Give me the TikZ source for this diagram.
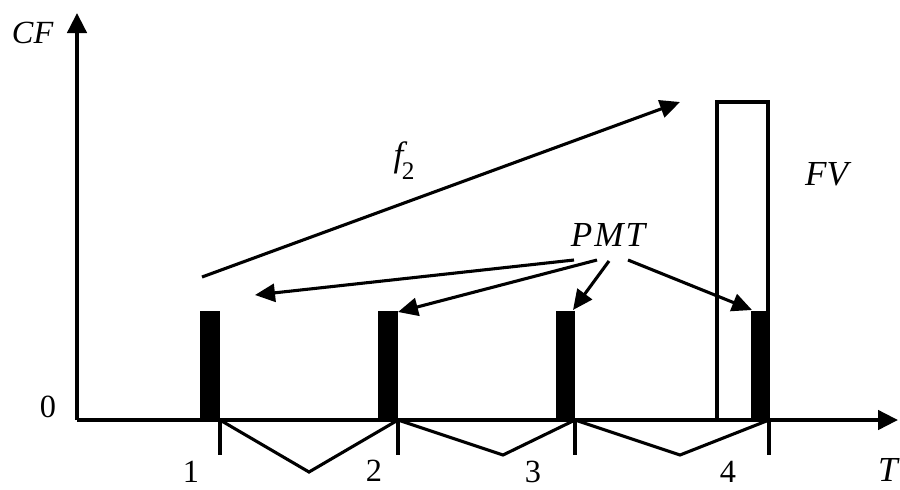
\documentclass[tikz,border=0pt]{standalone}
\usepackage{fontspec}
\setmainfont{Liberation Serif}
\usetikzlibrary{arrows.meta}
\definecolor{ink}{RGB}{0,0,0}
\tikzset{
    line join=miter,
    axis/.style={
        -{Triangle[length=0.5cm, width=0.48cm]},
        draw=ink,
        line width=2.8pt
    },
    flowline/.style={
        draw=ink,
        line width=2.2pt
    },
    payarrow/.style={
        flowline,
        -{Triangle[length=0.5cm, width=0.45cm]}
    },
    paybar/.style={
        fill=ink
    },
    fvbar/.style={
        draw=ink,
        line width=2.2pt
    },
    ticklabel/.style={
        font=\fontsize{23}{26}\selectfont,
        text=ink,
        inner sep=0pt
    },
    varlabel/.style={
        font=\fontsize{25}{28}\selectfont\itshape,
        text=ink,
        inner sep=0pt
    },
    axislabel/.style={
        font=\fontsize{23}{26}\selectfont\itshape,
        text=ink,
        inner sep=0pt
    }
}

\begin{document}
\begin{tikzpicture}
\useasboundingbox (-1.925, -1.725) rectangle (20.575, 10.5);

% Future value column
\draw[fvbar] (16.0, 0) rectangle (17.275, 7.95);

% Payment bars
\fill[paybar] (3.075, 0) rectangle (3.575, 2.725);
\fill[paybar] (7.525, 0) rectangle (8.025, 2.725);
\fill[paybar] (11.975, 0) rectangle (12.45, 2.725);
\fill[paybar] (16.85, 0) rectangle (17.3, 2.725);

% Axes
\coordinate (origin) at (0, 0);
\coordinate (ytop) at (0, 10.175);
\coordinate (xend) at (20.525, 0);
\draw[axis] (origin) -- (ytop);
\draw[axis] (origin) -- (xend);

\node[axislabel] (cf) at (-1.11, 9.675) {CF};
\node[ticklabel] (zero) at (-0.725, 0.325) {0};
\node[varlabel] (t) at (20.275, -1.25) {T};

% Periods
\coordinate (p1) at (3.575, 0);
\coordinate (p2) at (8.025, 0);
\coordinate (p3) at (12.45, 0);
\coordinate (p4) at (17.3, 0);
\draw[flowline] (p1) -- ++(0, -0.875);
\draw[flowline] (p2) -- ++(0, -0.875);
\draw[flowline] (p3) -- ++(0, -0.875);
\draw[flowline] (p4) -- ++(0, -0.875);

\node[ticklabel] (n1) at (2.85, -1.29) {1};
\node[ticklabel] (n2) at (7.425, -1.27) {2};
\node[ticklabel] (n3) at (11.4, -1.29) {3};
\node[ticklabel] (n4) at (16.275, -1.29) {4};

% Braces between periods
\coordinate (v1) at (5.8, -1.3);
\coordinate (v2) at (10.65, -0.875);
\coordinate (v3) at (15.075, -0.875);
\draw[flowline] (p1) -- (v1) -- (p2) -- (v2) -- (p3) -- (v3) -- (p4);

% Compounding
\coordinate (fstart) at (3.125, 3.575);
\coordinate (fend) at (15.075, 7.95);
\draw[payarrow] (fstart) -- (fend);
\node[varlabel] (f2) at (8.175, 6.49) {f\kern-0.04em\raisebox{-0.36em}{\upshape\fontsize{18}{20}\selectfont 2}};
\node[varlabel] (fv) at (18.74, 6.14) {FV};

% Payments
\node[varlabel] (pmt) at (13.275, 4.625) {P\kern0.06em M\kern0.06em T};
\coordinate (pa) at (12.425, 4.0);
\coordinate (pb) at (13.0, 4.0);
\coordinate (pc) at (13.3, 3.975);
\coordinate (pd) at (13.775, 4.0);
\coordinate (bar1) at (4.45, 3.125);
\coordinate (bar2) at (8.025, 2.7);
\coordinate (bar3) at (12.4, 2.75);
\coordinate (bar4) at (16.875, 2.75);
\draw[payarrow] (pa) -- (bar1);
\draw[payarrow] (pb) -- (bar2);
\draw[payarrow] (pc) -- (bar3);
\draw[payarrow] (pd) -- (bar4);

\end{tikzpicture}
\end{document}
